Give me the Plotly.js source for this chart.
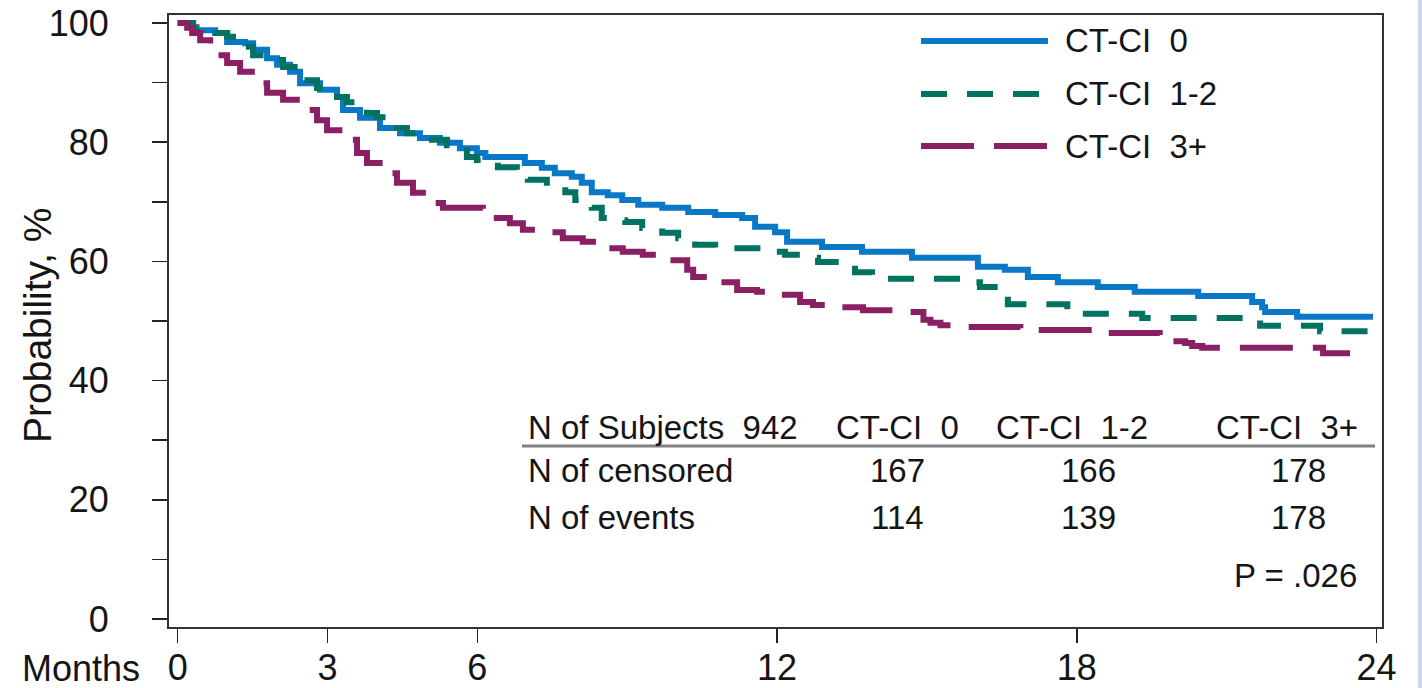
<!DOCTYPE html>
<html>
<head>
<meta charset="utf-8">
<script src="https://cdn.plot.ly/plotly-3.0.1.min.js"></script>
<style>
  html, body { margin: 0; padding: 0; background: #ffffff; }
  #chart { width: 1422px; height: 688px; }
  #edge { position: absolute; left: 1418px; top: 0; width: 4px; height: 688px; background: #c8d8ee; }
</style>
</head>
<body>
<div id="chart"></div>
<div id="edge"></div>
<script>
// ---- Data (months, survival probability %) ----
const seriesNames = ["CT-CI\u00a0\u00a00", "CT-CI\u00a0\u00a01-2", "CT-CI\u00a0\u00a03+"];

const monthsCTCI0 = [0, 0.29, 0.75, 0.99, 1.35, 1.51, 1.79, 1.99, 2.25, 2.45,
  2.85, 3.19, 3.31, 3.65, 4.05, 4.45, 4.85, 5.25, 5.65, 5.99,
  6.16, 6.95, 7.29, 7.55, 7.89, 8.09, 8.29, 8.61, 8.90, 9.22,
  9.70, 10.22, 10.76, 11.30, 11.56, 11.96, 12.2, 12.90, 13.70, 14.70,
  16.02, 16.56, 17.02, 17.62, 18.42, 19.16, 20.43, 21.51, 21.71, 21.77,
  22.41, 23.93];
const survCTCI0 = [100, 98.8, 98.3, 96.8, 96.6, 95.5, 94.1, 93.0, 91.8, 89.9,
  88.8, 87.6, 85.4, 84.1, 82.4, 81.5, 80.7, 79.9, 79.0, 78.2,
  77.5, 76.5, 75.7, 74.8, 74.2, 73.2, 71.6, 71.1, 70.3, 69.5,
  69.0, 68.3, 67.8, 67.3, 65.8, 64.9, 63.3, 62.4, 61.6, 60.6,
  59.1, 58.6, 57.4, 56.5, 55.7, 54.9, 54.2, 53.2, 52.3, 51.5,
  50.7, 50.7];

const monthsCTCI12 = [0, 0.31, 0.71, 0.99, 1.25, 1.51, 1.79, 2.11, 2.51, 2.79,
  3.19, 3.39, 3.79, 3.99, 4.39, 4.59, 4.99, 5.39, 5.79, 5.99,
  6.41, 6.79, 7.01, 7.39, 7.76, 7.96, 8.29, 8.49, 8.61, 8.96,
  9.30, 9.70, 10.02, 10.36, 10.76, 11.70, 12.16, 12.46, 12.82, 13.30,
  13.56, 13.90, 15.70, 16.06, 16.46, 16.62, 17.81, 19.31, 21.67, 22.87,
  23.93];
const survCTCI12 = [100, 99.3, 98.3, 97.7, 96.0, 94.6, 93.8, 92.6, 90.4, 89.1,
  87.6, 86.7, 84.9, 84.2, 82.4, 81.5, 80.4, 79.5, 77.5, 77.0,
  75.8, 75.0, 73.7, 72.5, 71.6, 70.3, 69.0, 67.3, 66.9, 66.6,
  65.6, 64.8, 63.9, 62.8, 62.2, 61.6, 61.1, 60.6, 59.9, 59.7,
  58.2, 57.1, 56.5, 55.7, 55.2, 52.8, 51.2, 50.5, 49.2, 48.3,
  48.3];

const monthsCTCI3 = [0, 0.19, 0.29, 0.45, 0.65, 0.99, 1.25, 1.59, 1.79, 2.11,
  2.45, 2.79, 2.99, 3.39, 3.59, 3.79, 4.11, 4.39, 4.71, 5.11,
  5.31, 6.11, 6.65, 6.91, 7.31, 7.71, 8.11, 8.51, 8.91, 9.31,
  9.71, 10.2, 10.32, 10.8, 11.2, 11.6, 12.0, 12.46, 12.72, 13.2,
  13.72, 14.52, 14.93, 15.07, 15.27, 15.6, 16.87, 18.3, 19.66, 20.17,
  20.31, 20.51, 22.93, 23.47];
const survCTCI3 = [100, 99.2, 98.3, 97.1, 94.6, 93.3, 91.8, 89.9, 88.3, 87.1,
  85.4, 83.7, 82.0, 80.4, 78.2, 76.5, 74.8, 73.2, 71.5, 69.8,
  69.0, 67.3, 66.4, 65.3, 64.9, 63.9, 63.3, 62.2, 61.6, 61.1,
  60.2, 58.6, 57.4, 56.5, 55.2, 54.9, 54.4, 53.2, 52.7, 52.3,
  51.8, 51.5, 50.2, 49.7, 49.3, 49.0, 48.5, 48.0, 46.6, 46.3,
  45.8, 45.5, 44.6, 44.6];

const xTickVals = [0, 3, 6, 12, 18, 24];
const yTickVals = [0, 10, 20, 30, 40, 50, 60, 70, 80, 90, 100];
const yTickText = ["0", "", "20", "", "40", "", "60", "", "80", "", "100"];

const tableHeader = ["N of Subjects\u00a0\u00a0942", "CT-CI\u00a0\u00a00", "CT-CI\u00a0\u00a01-2", "CT-CI\u00a0\u00a03+"];
const censoredCounts = [167, 166, 178];
const eventCounts = [114, 139, 178];
const pValueText = "P = .026";

// ---- Styles ----
const colors = ["#0a78c6", "#037261", "#8b1f63"];
const dashes = ["solid", "26px,20px", "53px,20px"];
const FONT = "Liberation Sans, Arial, Helvetica, sans-serif";
const INK = "#151515";
const LW = 6;

const traces = [
  {x: monthsCTCI0, y: survCTCI0},
  {x: monthsCTCI12, y: survCTCI12},
  {x: monthsCTCI3, y: survCTCI3}
].map((d, i) => ({
  type: "scatter", mode: "lines", x: d.x, y: d.y, name: seriesNames[i],
  line: {shape: "hv", color: colors[i], width: LW, dash: dashes[i]},
  showlegend: false, hoverinfo: "skip"
}));

// helpers: pixel -> paper (plot area l=169, t=15, w=1213, h=612)
const PL = 169, PT = 15, PW = 1213, PH = 612;
const px = v => (v - PL) / PW;
const py = v => (PT + PH - v) / PH;

const shapes = [];
const annotations = [];

// manual legend
const legendY = [41, 94, 146];
seriesNames.forEach((nm, i) => {
  shapes.push({type: "line", xref: "paper", yref: "paper",
    x0: px(921), x1: px(1048), y0: py(legendY[i]), y1: py(legendY[i]),
    line: {color: colors[i], width: LW, dash: dashes[i]}});
  annotations.push({xref: "paper", yref: "paper", x: px(1063), y: py(legendY[i]),
    xanchor: "left", yanchor: "middle", showarrow: false, text: nm,
    font: {family: FONT, size: 33, color: INK}});
});

// table
const headY = 427, censY = 470, evY = 517, pY = 575;
annotations.push({xref: "paper", yref: "paper", x: px(526), y: py(headY), xanchor: "left", yanchor: "middle",
  showarrow: false, text: tableHeader[0], font: {family: FONT, size: 33, color: INK}});
const headCenters = [897, 1072, 1287];
for (let i = 0; i < 3; i++) {
  annotations.push({xref: "paper", yref: "paper", x: px(headCenters[i]), y: py(headY), xanchor: "center", yanchor: "middle",
    showarrow: false, text: tableHeader[i + 1], font: {family: FONT, size: 33, color: INK}});
}
shapes.push({type: "line", xref: "paper", yref: "paper", x0: px(522), x1: px(1375), y0: py(446), y1: py(446),
  line: {color: "#808080", width: 3}});
annotations.push({xref: "paper", yref: "paper", x: px(526), y: py(censY), xanchor: "left", yanchor: "middle",
  showarrow: false, text: "N of censored", font: {family: FONT, size: 33, color: INK}});
annotations.push({xref: "paper", yref: "paper", x: px(526), y: py(evY), xanchor: "left", yanchor: "middle",
  showarrow: false, text: "N of events", font: {family: FONT, size: 33, color: INK}});
const numCenters = [897, 1088, 1298];
for (let i = 0; i < 3; i++) {
  annotations.push({xref: "paper", yref: "paper", x: px(numCenters[i]), y: py(censY), xanchor: "center", yanchor: "middle",
    showarrow: false, text: String(censoredCounts[i]), font: {family: FONT, size: 33, color: INK}});
  annotations.push({xref: "paper", yref: "paper", x: px(numCenters[i]), y: py(evY), xanchor: "center", yanchor: "middle",
    showarrow: false, text: String(eventCounts[i]), font: {family: FONT, size: 33, color: INK}});
}
annotations.push({xref: "paper", yref: "paper", x: px(1359), y: py(pY), xanchor: "right", yanchor: "middle",
  showarrow: false, text: pValueText, font: {family: FONT, size: 33, color: INK}});

// axis side labels
annotations.push({xref: "paper", yref: "paper", x: px(142), y: py(668), xanchor: "right", yanchor: "middle",
  showarrow: false, text: "Months", font: {family: FONT, size: 36, color: INK}});
annotations.push({xref: "paper", yref: "paper", x: px(37), y: py(325), xanchor: "center", yanchor: "middle",
  textangle: -90, showarrow: false, text: "Probability, %", font: {family: FONT, size: 39, color: INK}});

const layout = {
  width: 1422, height: 688,
  margin: {l: PL, r: 1422 - PL - PW, t: PT, b: 688 - PT - PH, pad: 0},
  paper_bgcolor: "#ffffff", plot_bgcolor: "#ffffff",
  font: {family: FONT, color: INK},
  showlegend: false,
  xaxis: {
    range: [-0.174, 24.11], tickvals: xTickVals, ticktext: xTickVals.map(String),
    ticks: "outside", ticklen: 14, tickwidth: 1.5, tickcolor: "#222",
    showline: true, mirror: true, linecolor: "#333", linewidth: 2,
    showgrid: false, zeroline: false, tickfont: {family: FONT, size: 36, color: INK},
    ticklabelstandoff: -6, fixedrange: true
  },
  yaxis: {
    range: [-1.34, 101.34], tickvals: yTickVals, ticktext: yTickText,
    ticks: "outside", ticklen: 15, tickwidth: 1.5, tickcolor: "#222",
    showline: true, mirror: true, linecolor: "#333", linewidth: 2,
    showgrid: false, zeroline: false, tickfont: {family: FONT, size: 36, color: INK},
    ticklabelstandoff: 36, fixedrange: true
  },
  shapes: shapes,
  annotations: annotations
};

Plotly.newPlot("chart", traces, layout, {staticPlot: true, displayModeBar: false});
</script>
</body>
</html>
